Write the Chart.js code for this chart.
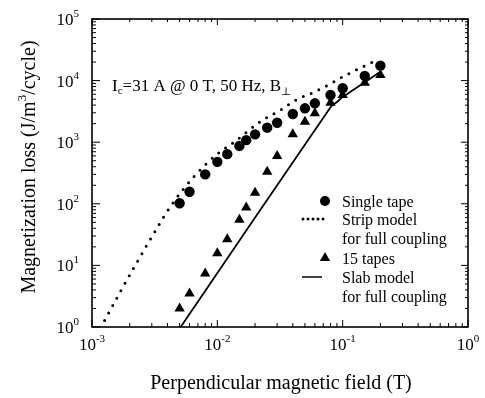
<!DOCTYPE html>
<html>
<head>
<meta charset="utf-8">
<script src="https://cdn.jsdelivr.net/npm/chart.js@4.4.1/dist/chart.umd.min.js"></script>
<style>
  html, body { margin: 0; padding: 0; background: #fff; }
  #wrap { width: 485px; height: 398px; }
</style>
</head>
<body>
<div id="wrap"><canvas id="lossChart" width="485" height="398"></canvas></div>
<script>
// measured points (field in T, loss in J/m^3/cycle)
const fieldT = [0.005, 0.006, 0.008, 0.01, 0.012, 0.015, 0.017, 0.02, 0.025, 0.03, 0.04, 0.05, 0.06, 0.08, 0.1, 0.15, 0.2];
const singleTape = [102, 157, 300, 480, 640, 870, 1080, 1340, 1720, 2070, 2870, 3550, 4280, 5840, 7500, 11900, 17500];
const fifteenTapes = [2.0, 3.5, 7.4, 15.7, 26.5, 55, 87, 151, 332, 597, 1340, 2150, 2940, 4380, 5840, 9240, 12300];

// strip model, full coupling
const stripX = [0.00126, 0.0017, 0.00236, 0.00326, 0.00422, 0.00643, 0.00977, 0.01343, 0.0226, 0.0321, 0.0425, 0.0577, 0.0784, 0.103, 0.138, 0.187];
const stripY = [1.27, 3.88, 12.6, 38.5, 90, 269, 620, 982, 2233, 3335, 4840, 6370, 8710, 11880, 16000, 21600];

// slab model, full coupling
const slabX = [0.0051, 0.08, 0.09, 0.1, 0.2];
const slabY = [1.0, 3700, 4500, 5400, 13900];

const xExponents = [-3, -2, -1, 0];
const yExponents = [0, 1, 2, 3, 4, 5];

const legendItems = ['Single tape', 'Strip model', 'for full coupling', '15 tapes', 'Slab model', 'for full coupling'];

function pairs(xs, ys) {
    return xs.map(function (x, i) { return { x: x, y: ys[i] }; });
}

const SERIF = '"Liberation Serif", "DejaVu Serif", serif';

// draws "10" with a raised exponent
function drawPow(ctx, exp, x, y, align) {
    const base = '10';
    const sup = String(exp);
    ctx.font = '17px ' + SERIF;
    const bw = ctx.measureText(base).width;
    ctx.font = '11px ' + SERIF;
    const sw = ctx.measureText(sup).width;
    let start = x;
    if (align === 'right') start = x - bw - sw;
    if (align === 'center') start = x - (bw + sw) / 2;
    ctx.textAlign = 'left';
    ctx.textBaseline = 'alphabetic';
    ctx.font = '17px ' + SERIF;
    ctx.fillText(base, start, y);
    ctx.font = '11px ' + SERIF;
    ctx.fillText(sup, start + bw, y - 8);
}

// draws a run of [text, size, dy] pieces one after another
function drawRuns(ctx, runs, x, y) {
    let cx = x;
    runs.forEach(function (r) {
        ctx.font = r[1] + 'px ' + SERIF;
        ctx.fillText(r[0], cx, y + r[2]);
        cx += ctx.measureText(r[0]).width;
    });
    return cx - x;
}

function runsWidth(ctx, runs) {
    let w = 0;
    runs.forEach(function (r) {
        ctx.font = r[1] + 'px ' + SERIF;
        w += ctx.measureText(r[0]).width;
    });
    return w;
}

const framePlugin = {
    id: 'frame',
    afterDatasetsDraw(chart) {
        const ctx = chart.ctx;
        const a = chart.chartArea;
        const xs = chart.scales.x;
        const ys = chart.scales.y;
        ctx.save();
        ctx.strokeStyle = '#000';
        ctx.fillStyle = '#000';

        // box
        ctx.lineWidth = 1.6;
        ctx.strokeRect(a.left, a.top, a.right - a.left, a.bottom - a.top);

        // inward ticks
        ctx.lineWidth = 1;
        ctx.beginPath();
        for (let d = -3; d <= 0; d++) {
            for (let m = 1; m <= 9; m++) {
                if (d === 0 && m > 1) break;
                const px = xs.getPixelForValue(m * Math.pow(10, d));
                const len = m === 1 ? 7 : 4;
                ctx.moveTo(px, a.bottom); ctx.lineTo(px, a.bottom - len);
                ctx.moveTo(px, a.top); ctx.lineTo(px, a.top + len - 1);
            }
        }
        for (let d = 0; d <= 5; d++) {
            for (let m = 1; m <= 9; m++) {
                if (d === 5 && m > 1) break;
                const py = ys.getPixelForValue(m * Math.pow(10, d));
                const len = m === 1 ? 8 : 4;
                ctx.moveTo(a.left, py); ctx.lineTo(a.left + len, py);
                ctx.moveTo(a.right, py); ctx.lineTo(a.right - len + 1, py);
            }
        }
        ctx.stroke();

        // tick labels
        xExponents.forEach(function (e) {
            drawPow(ctx, e, xs.getPixelForValue(Math.pow(10, e)), a.bottom + 23, 'center');
        });
        yExponents.forEach(function (e) {
            drawPow(ctx, e, 79, ys.getPixelForValue(Math.pow(10, e)) + 6, 'right');
        });

        // axis titles
        ctx.textAlign = 'left';
        ctx.font = '20px ' + SERIF;
        const xTitle = 'Perpendicular magnetic field (T)';
        const xtw = ctx.measureText(xTitle).width;
        ctx.fillText(xTitle, 281 - xtw / 2, 389);

        const yRuns = [['Magnetization loss (J/m', 20, 0], ['3', 13, -9], ['/cycle)', 20, 0]];
        const ytw = runsWidth(ctx, yRuns);
        ctx.save();
        ctx.translate(35, 167);
        ctx.rotate(-Math.PI / 2);
        drawRuns(ctx, yRuns, -ytw / 2, 0);
        ctx.restore();

        // condition note
        drawRuns(ctx, [['I', 17, 0], ['c', 11, 3], ['=31 A @ 0 T, 50 Hz, B', 17, 0], ['\u22a5', 11, 4]], 112, 91);

        // legend
        const lx = 312, tx = 342;
        const rows = [208, 226, 245, 265, 284, 303];
        ctx.font = '16px ' + SERIF;
        legendItems.forEach(function (t, i) {
            ctx.fillText(t, tx, rows[i] - 1);
        });
        ctx.beginPath();
        ctx.arc(lx + 13, rows[0] - 7, 5, 0, Math.PI * 2);
        ctx.fill();
        ctx.beginPath();
        ctx.lineWidth = 3;
        ctx.lineCap = 'round';
        ctx.setLineDash([0, 5]);
        ctx.moveTo(lx - 9, rows[1] - 7); ctx.lineTo(lx + 12, rows[1] - 7);
        ctx.stroke();
        ctx.setLineDash([]);
        ctx.lineCap = 'butt';
        const r = 6, cy = rows[3] - 7;
        ctx.beginPath();
        ctx.moveTo(lx + 13, cy - r);
        ctx.lineTo(lx + 13 + r * 0.866, cy + r / 2);
        ctx.lineTo(lx + 13 - r * 0.866, cy + r / 2);
        ctx.closePath();
        ctx.fill();
        ctx.lineWidth = 1.5;
        ctx.beginPath();
        ctx.moveTo(lx - 10, rows[4] - 7); ctx.lineTo(lx + 10, rows[4] - 7);
        ctx.stroke();

        ctx.restore();
    }
};

new Chart(document.getElementById('lossChart'), {
    type: 'scatter',
    data: {
        datasets: [
            {
                label: 'Strip model for full coupling',
                data: pairs(stripX, stripY),
                showLine: true,
                borderColor: '#000',
                borderWidth: 3,
                borderDash: [0, 8.5],
                borderCapStyle: 'round',
                cubicInterpolationMode: 'monotone',
                pointRadius: 0
            },
            {
                label: 'Slab model for full coupling',
                data: pairs(slabX, slabY),
                showLine: true,
                borderColor: '#000',
                borderWidth: 1.8,
                tension: 0.2,
                pointRadius: 0
            },
            {
                label: 'Single tape',
                data: pairs(fieldT, singleTape),
                pointStyle: 'circle',
                pointRadius: 5.2,
                backgroundColor: '#000',
                borderColor: '#000',
                borderWidth: 0
            },
            {
                label: '15 tapes',
                data: pairs(fieldT, fifteenTapes),
                pointStyle: 'triangle',
                pointRadius: 6,
                backgroundColor: '#000',
                borderColor: '#000',
                borderWidth: 0
            }
        ]
    },
    options: {
        responsive: false,
        animation: false,
        layout: { padding: { left: 92, top: 19, right: 17, bottom: 71 } },
        plugins: {
            legend: { display: false },
            tooltip: { enabled: false }
        },
        scales: {
            x: { type: 'logarithmic', min: 0.001, max: 1, display: false },
            y: { type: 'logarithmic', min: 1, max: 100000, display: false }
        }
    },
    plugins: [framePlugin]
});
</script>
</body>
</html>
